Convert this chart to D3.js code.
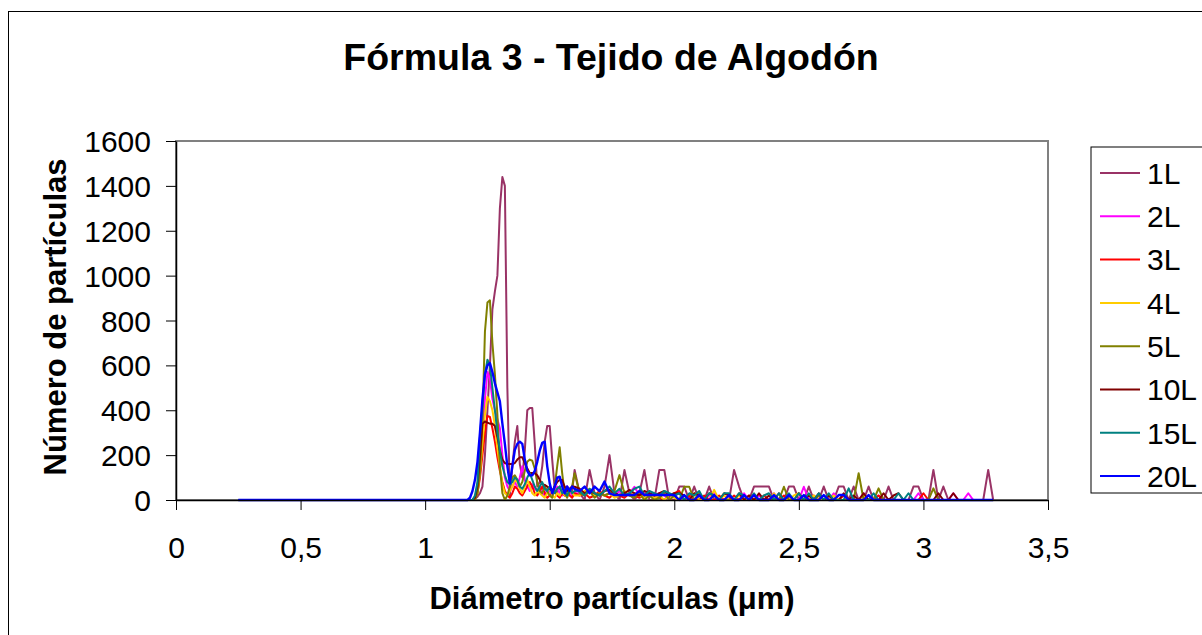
<!DOCTYPE html>
<html><head><meta charset="utf-8">
<script src="https://cdn.jsdelivr.net/npm/d3@7"></script>
<style>
html,body{margin:0;padding:0;background:#fff;}
svg{display:block;font-family:"Liberation Sans",Arial,sans-serif;}
</style></head><body>
<svg id="chart" width="1202" height="635"></svg>
<script>
const titleText = "Fórmula 3 - Tejido de Algodón";
const xTitle = "Diámetro partículas (μm)";
const yTitle = "Número de partículas";
const xTicks = [0,0.5,1,1.5,2,2.5,3,3.5];
const yTicks = [0,200,400,600,800,1000,1200,1400,1600];
const seriesNames = ["1L","2L","3L","4L","5L","10L","15L","20L"];
const seriesColors = ["#993366","#FF00FF","#FF0000","#FFCC00","#808000","#800000","#008080","#0000FF"];

// shared diameter bins (µm)
const diam = [0.25,
 1.15,1.16,1.17,1.18,1.19,1.20,1.21,1.22,1.23,1.24,1.25,1.26,1.27,1.28,1.29,1.30,1.31,1.32,1.33,1.34,
 1.35,1.36,1.37,1.38,1.39,1.40,1.41,1.42,1.43,1.44,1.45,1.46,1.47,1.48,1.49,1.50,1.51,1.52,1.53,1.54,
 1.55,1.56,1.57,1.58,1.59,1.60,
 1.62,1.64,1.66,1.68,1.70,1.72,1.74,1.76,1.78,1.80,1.82,1.84,1.86,1.88,1.90,1.92,1.94,1.96,1.98,2.00,
 2.02,2.04,2.06,2.08,2.10,2.12,2.14,2.16,2.18,2.20,2.22,2.24,2.26,2.28,2.30,2.32,2.34,2.36,2.38,2.40,
 2.42,2.44,2.46,2.48,2.50,2.52,2.54,2.56,2.58,2.60,2.62,2.64,2.66,2.68,2.70,2.72,2.74,2.76,2.78,2.80,
 2.82,2.84,2.86,2.88,2.90,2.92,2.94,2.96,2.98,3.00,3.02,3.04,3.06,3.08,3.10,3.12,3.14,3.16,3.18,3.20,
 3.22,3.24,3.26,3.28];

const s1L = [0,
 0,0,0,0,0, 5,15,30,60,200, 400,600,850,930,1000, 1300,1440,1400,500,20, 150,260,330,160,100,
 220,400,410,410,250, 60,80,150,260,330, 330,180,50,30,60, 30,20,60,30,40, 134,
 30,0,134,30,0, 60,200,30,0,134, 30,0,30,134,0, 0,134,134,0,0, 60,60,0,60,0, 0,60,0,0,0,
 0,134,60,0,0, 60,60,60,60,0, 0,0,60,60,0, 0,60,0,0,60, 0,0,60,60,0, 60,0,0,60,0,
 0,0,60,0,0, 0,0,60,60,0, 0,134,0,60,0, 0,0,0,0,0, 0,0,134,0];
const s2L = [0,
 0,0,0,0,0, 10,40,150,300,450, 570,540,450,400,360, 320,200,100,60,40, 60,80,60,100,150,
 90,60,40,70,50, 40,60,30,20,50, 40,20,40,60,30, 20,30,60,40,20, 30,
 30,20,40,20,30, 20,30,20,40,20, 30,59,20,30,20, 20,30,20,0,20, 30,0,20,0,30, 0,20,30,0,0,
 20,0,0,30,0, 0,20,0,0,30, 0,0,20,0,0, 59,0,0,20,0, 0,30,0,0,0, 0,0,30,0,0,
 20,0,0,0,0, 0,0,0,30,0, 0,0,0,0,0, 30,0,0,30,0, 0,0,0,0];
const s3L = [0,
 0,0,0,0,0, 10,30,100,200,300, 375,370,320,260,190, 130,80,40,20,10, 30,60,50,30,20,
 40,60,80,60,30, 20,40,60,30,10, 20,30,40,20,10, 30,20,40,20,10, 30,
 20,30,10,20,40, 20,10,30,20,10, 30,20,10,20,30, 20,10,0,20,30, 40,0,20,0,0, 20,0,0,20,0,
 0,20,0,0,20, 0,0,20,0,0, 0,20,0,0,0, 0,0,20,0,0, 0,0,0,20,0, 0,0,0,0,0,
 20,0,0,0,0, 0,0,0,0,30, 0,0,0,0,0, 0,0,0,0,0, 0,0,0,0];
const s4L = [0,
 0,0,0,0,0, 10,30,120,250,380, 460,440,400,330,230, 150,70,30,20,40, 60,90,80,50,30,
 60,90,60,30,20, 40,30,20,10,30, 60,20,10,30,20, 40,20,30,50,30, 20,
 20,40,50,20,30, 20,30,10,20,40, 20,30,20,10,20, 10,20,0,20,10, 0,20,0,30,0, 0,0,45,0,20,
 0,0,20,0,0, 20,0,0,0,30, 0,0,0,20,30, 0,0,20,0,0, 0,20,0,0,0, 0,0,20,0,0,
 0,0,0,0,0, 0,0,0,0,0, 0,0,0,0,0, 0,0,0,0,0, 0,0,0,0];
const s5L = [0,
 0,0,0,0,0, 0,30,120,350,750, 880,890,700,560,380, 150,30,0,20,60, 100,110,90,60,80,
 130,170,180,175,140, 80,40,30,60,40, 20,10,60,150,235, 120,30,10,40,60, 119,
 30,20,40,10,30, 20,30,40,111,30, 20,10,30,0,20, 0,10,30,0,20, 0,59,59,0,30, 0,0,20,0,0,
 0,0,0,20,0, 0,0,0,0,0, 0,59,0,0,0, 0,0,0,20,0, 0,0,0,0,0, 0,119,0,0,0,
 52,0,0,0,0, 0,0,0,0,0, 0,52,0,0,0, 0,0,0,0,0, 0,0,0,0];
const s10L = [0,
 0,0,0,0,0, 10,60,200,340,350, 345,340,340,330,280, 220,180,165,160,160, 160,165,180,190,190,
 165,140,120,120,119, 110,90,70,67,60, 50,40,60,80,90, 89,60,40,50,60, 59,
 50,30,40,30,20, 40,45,30,20,30, 45,30,20,40,30, 20,30,40,20,30, 30,20,0,30,20, 0,30,20,0,30,
 20,0,30,0,20, 0,30,0,20,0, 30,0,20,0,30, 0,20,0,30,0, 20,0,0,30,0, 20,0,30,0,0,
 0,30,0,20,30, 0,0,0,0,0, 0,0,30,0,0, 30,0,0,0,0, 0,0,0,0];
const s15L = [0,
 0,0,0,0,0, 20,80,280,420,560, 625,600,500,400,300, 220,150,110,80,70, 80,100,90,60,50,
 70,100,120,90,60, 40,60,80,50,40, 60,40,30,50,60, 30,40,20,50,30, 40,
 40,20,50,30,20, 40,60,30,50,20, 30,50,60,20,40, 30,20,40,30,20, 30,0,30,20,40, 0,30,20,0,30,
 30,0,30,20,0, 30,0,20,30,0, 30,0,30,0,30, 0,30,0,30,0, 30,0,0,0,52, 0,0,0,0,30,
 0,0,0,0,30, 0,30,0,0,0, 0,0,0,0,0, 0,0,0,0,0, 0,0,0,0];
const s20L = [0,
 0,0,0,10,40, 90,170,300,450,560, 600,610,570,520,480, 440,340,250,150,74, 150,223,250,260,250,
 180,130,110,110,130, 170,220,255,260,150, 74,30,60,100,104, 60,30,60,40,60, 50,
 40,60,30,60,40, 82,30,22,22,22, 22,22,40,22,22, 22,22,22,22,22, 0,22,0,0,22, 0,0,22,0,0,
 22,0,0,22,0, 22,0,0,0,22, 0,0,22,0,0, 22,0,0,0,22, 0,0,22,22,0, 0,0,0,22,0,
 0,0,0,0,0, 0,0,0,0,0, 0,0,0,0,0, 0,0,0,0,0, 0,0,0,0];

const seriesValues = [s1L,s2L,s3L,s4L,s5L,s10L,s15L,s20L];

const svg = d3.select("#chart");
const fmt = d => String(d).replace(".", ",");

// outer chart border
svg.append("rect").attr("x",8.5).attr("y",11.5).attr("width",1210).attr("height",640)
  .attr("fill","#fff").attr("stroke","#000").attr("stroke-width",1);

const x = d3.scaleLinear().domain([0,3.5]).range([176,1048]);
const y = d3.scaleLinear().domain([0,1600]).range([500,141]);

// plot area frame (grey top/right)
svg.append("rect").attr("x",176).attr("y",141).attr("width",872).attr("height",359)
  .attr("fill","#fff").attr("stroke","#808080").attr("stroke-width",2);

// series lines
const line = d3.line().x((d,i)=>x(diam[i])).y(d=>y(d));
seriesValues.forEach((vals,k)=>{
  svg.append("path").datum(vals).attr("d",line)
    .attr("fill","none").attr("stroke",seriesColors[k])
    .attr("stroke-width", k===7 ? 2.4 : 2).attr("stroke-linejoin","round");
});

// axes
const xAxis = svg.append("g").attr("transform","translate(0,500)")
  .call(d3.axisBottom(x).tickValues(xTicks).tickFormat(fmt).tickSize(10).tickSizeOuter(0));
const yAxis = svg.append("g").attr("transform","translate(176,0)")
  .call(d3.axisLeft(y).tickValues(yTicks).tickFormat(fmt).tickSize(10).tickSizeOuter(0));
[xAxis,yAxis].forEach(g=>{
  g.select(".domain").attr("stroke","#000").attr("stroke-width",1.5);
  g.selectAll(".tick line").attr("stroke","#000").attr("stroke-width",1);
  g.selectAll(".tick text").attr("fill","#000").style("font-size","30px")
    .style("font-family","'Liberation Sans',Arial,sans-serif");
});
xAxis.selectAll(".tick text").attr("dy",null).attr("y",58);
yAxis.selectAll(".tick text").attr("x",-25).attr("dy","0.35em");

// titles
svg.append("text").attr("x",611).attr("y",70).attr("text-anchor","middle")
  .style("font-size","37.5px").style("font-weight","bold").text(titleText);
svg.append("text").attr("x",612).attr("y",609).attr("text-anchor","middle")
  .style("font-size","31px").style("font-weight","bold").text(xTitle);
svg.append("text").attr("transform","translate(66,317) rotate(-90)").attr("text-anchor","middle")
  .style("font-size","31px").style("font-weight","bold").text(yTitle);

// legend
const lg = svg.append("g");
lg.append("rect").attr("x",1091).attr("y",147).attr("width",130).attr("height",346)
  .attr("fill","#fff").attr("stroke","#000").attr("stroke-width",1);
seriesNames.forEach((n,i)=>{
  const yy = 173 + i*43.3;
  lg.append("line").attr("x1",1100).attr("x2",1140).attr("y1",yy).attr("y2",yy)
    .attr("stroke",seriesColors[i]).attr("stroke-width",2);
  lg.append("text").attr("x",1147).attr("y",yy).attr("dy","0.36em")
    .style("font-size","30px").text(n);
});
</script>
</body></html>
